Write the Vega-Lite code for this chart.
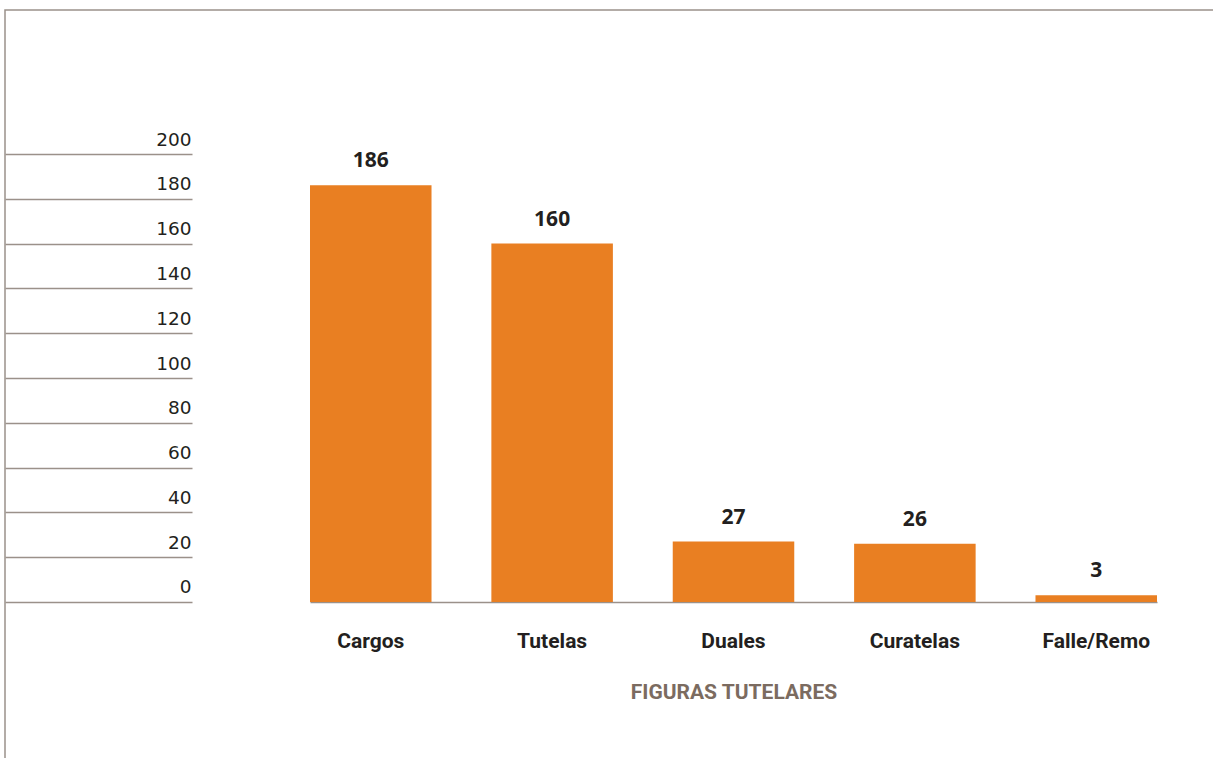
{
  "$schema": "https://vega.github.io/schema/vega-lite/v6.json",
  "width": 1212,
  "height": 752,
  "autosize": "none",
  "padding": {"left": 5, "top": 10, "right": 0, "bottom": 0},
  "background": "white",
  "config": {
    "view": {"stroke": "#9b918a", "strokeWidth": 1.5},
    "font": "Roboto"
  },
  "data": {
    "values": [
      {"figura": "Cargos", "valor": 186},
      {"figura": "Tutelas", "valor": 160},
      {"figura": "Duales", "valor": 27},
      {"figura": "Curatelas", "valor": 26},
      {"figura": "Falle/Remo", "valor": 3}
    ]
  },
  "encoding": {
    "x": {
      "field": "figura",
      "type": "nominal",
      "sort": null,
      "scale": {"range": [305, 1152], "paddingInner": 0.33, "paddingOuter": 0},
      "axis": {
        "title": "FIGURAS TUTELARES",
        "orient": "bottom",
        "offset": -160,
        "labelAngle": 0,
        "ticks": false,
        "domainColor": "#9b918a",
        "domainWidth": 1.5,
        "labelPadding": 28,
        "labelFont": "Roboto",
        "labelFontWeight": "bold",
        "labelFontSize": 21,
        "labelColor": "#231f20",
        "titleFont": "Roboto",
        "titleFontWeight": "bold",
        "titleFontSize": 21,
        "titleColor": "#7b6b60",
        "titlePadding": 30
      }
    },
    "y": {
      "field": "valor",
      "type": "quantitative",
      "scale": {"domain": [-71.43, 264.29], "nice": false, "zero": false},
      "axis": {
        "title": null,
        "orient": "left",
        "offset": -187,
        "values": [0, 20, 40, 60, 80, 100, 120, 140, 160, 180, 200],
        "domain": false,
        "grid": false,
        "tickSize": 187,
        "tickColor": "#9b918a",
        "tickWidth": 1.5,
        "labelPadding": -186,
        "labelAlign": "right",
        "labelBaseline": "alphabetic",
        "labelOffset": -9,
        "labelFont": "DejaVu Sans",
        "labelFontSize": 18.5,
        "labelColor": "#231f20"
      }
    }
  },
  "layer": [
    {
      "mark": {"type": "bar", "color": "#e97f22"},
      "encoding": {"y2": {"datum": 0}}
    },
    {
      "mark": {
        "type": "text",
        "baseline": "alphabetic",
        "dy": -18,
        "font": "Open Sans",
        "fontWeight": "bold",
        "fontSize": 21,
        "color": "#231f20"
      },
      "encoding": {"text": {"field": "valor", "type": "quantitative"}}
    }
  ]
}
